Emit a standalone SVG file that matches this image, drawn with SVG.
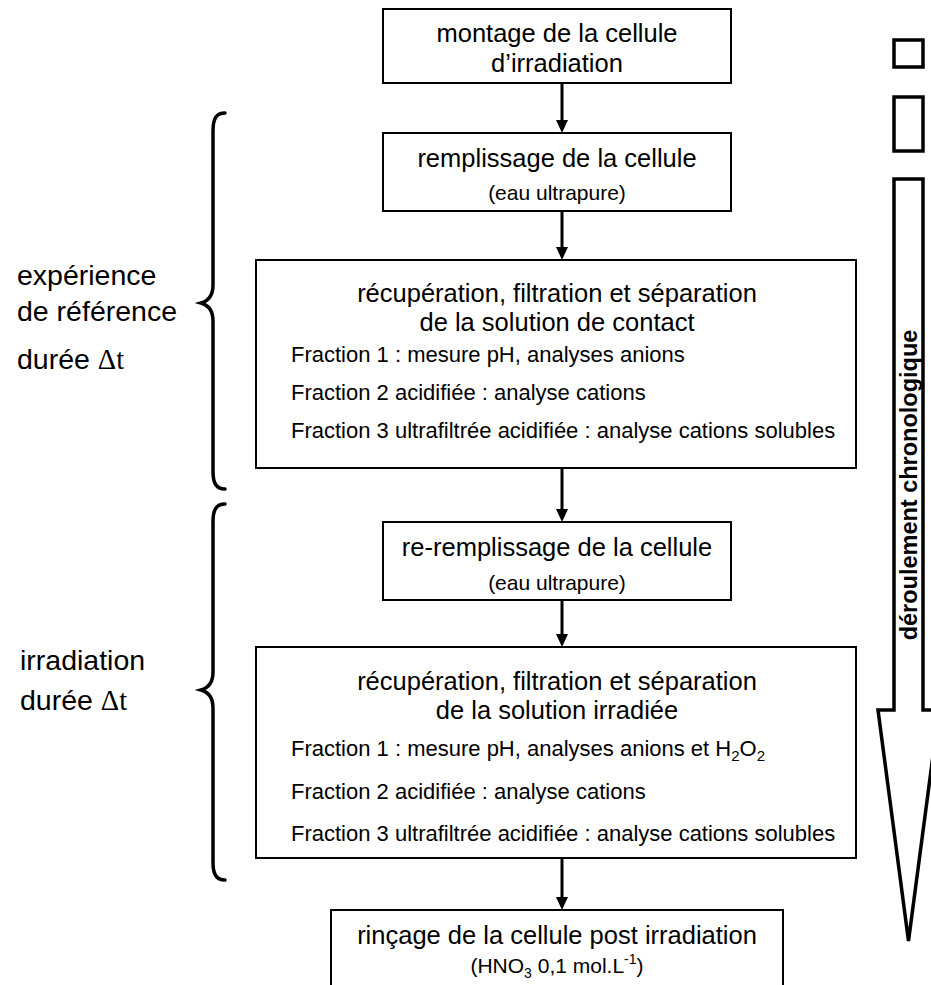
<svg xmlns="http://www.w3.org/2000/svg" width="931" height="985" viewBox="0 0 931 985">
<style>
.box{fill:#fff;stroke:#000;stroke-width:2}
.t{font-family:"Liberation Sans",Arial,sans-serif;fill:#000}
.title{font-size:25.5px;text-anchor:middle}
.sub{font-size:21px;text-anchor:middle}
.frac{font-size:22px}
.lab{font-size:28.5px}
.sym{font-family:"Liberation Serif","Times New Roman",serif}
.conn{stroke:#000;stroke-width:3;fill:none}
.head{fill:#000}
.brace{stroke:#000;stroke-width:3.5;fill:none;stroke-linecap:round}
.side{stroke:#000;stroke-width:3.5;fill:#fff}
</style>
<rect width="931" height="985" fill="#fff"/>

<g id="connectors">
<line class="conn" x1="562" y1="84" x2="562" y2="120"/>
<polygon class="head" points="556,120 568,120 562,133"/>
<line class="conn" x1="562" y1="212" x2="562" y2="247"/>
<polygon class="head" points="556,247 568,247 562,260"/>
<line class="conn" x1="562" y1="469" x2="562" y2="509"/>
<polygon class="head" points="556,509 568,509 562,522"/>
<line class="conn" x1="562" y1="601" x2="562" y2="634"/>
<polygon class="head" points="556,634 568,634 562,647"/>
<line class="conn" x1="562" y1="859" x2="562" y2="897"/>
<polygon class="head" points="556,897 568,897 562,910"/>
</g>

<g id="n1">
<rect class="box" x="383" y="9" width="348" height="74"/>
<text class="t title" x="557" y="42">montage de la cellule</text>
<text class="t title" x="557" y="72">d’irradiation</text>
</g>

<g id="n2">
<rect class="box" x="383" y="133" width="348" height="78"/>
<text class="t title" x="557" y="167">remplissage de la cellule</text>
<text class="t sub" x="557" y="200">(eau ultrapure)</text>
</g>

<g id="n3">
<rect class="box" x="256" y="260" width="600" height="208"/>
<text class="t title" x="557" y="302">récupération, filtration et séparation</text>
<text class="t title" x="557" y="331">de la solution de contact</text>
<text class="t frac" x="291" y="362">Fraction 1 : mesure pH, analyses anions</text>
<text class="t frac" x="291" y="400">Fraction 2 acidifiée : analyse cations</text>
<text class="t frac" x="291" y="438">Fraction 3 ultrafiltrée acidifiée : analyse cations solubles</text>
</g>

<g id="n4">
<rect class="box" x="383" y="522" width="348" height="78"/>
<text class="t title" x="557" y="556">re-remplissage de la cellule</text>
<text class="t sub" x="557" y="590">(eau ultrapure)</text>
</g>

<g id="n5">
<rect class="box" x="256" y="647" width="600" height="211"/>
<text class="t title" x="557" y="690">récupération, filtration et séparation</text>
<text class="t title" x="557" y="719">de la solution irradiée</text>
<text class="t frac" x="291" y="756">Fraction 1 : mesure pH, analyses anions et H<tspan font-size="15" dy="5">2</tspan><tspan dy="-5">O</tspan><tspan font-size="15" dy="5">2</tspan></text>
<text class="t frac" x="291" y="799">Fraction 2 acidifiée : analyse cations</text>
<text class="t frac" x="291" y="841">Fraction 3 ultrafiltrée acidifiée : analyse cations solubles</text>
</g>

<g id="n6">
<rect class="box" x="331" y="910" width="452" height="90"/>
<text class="t title" x="557" y="944">rinçage de la cellule post irradiation</text>
<text class="t sub" x="557" y="973">(HNO<tspan font-size="14" dy="5">3</tspan><tspan dy="-5"> 0,1 mol.L</tspan><tspan font-size="14" dy="-9">-1</tspan><tspan dy="9">)</tspan></text>
</g>

<g id="brace1">
<path class="brace" d="M225,113 C216,113 213,119 213,131 L213,285 C213,296 208,301 201,303 C208,305 213,310 213,321 L213,471 C213,483 216,489 225,489"/>
</g>
<g id="label1">
<text class="t lab" x="17" y="285">expérience</text>
<text class="t lab" x="17" y="321">de référence</text>
<text class="t lab" x="17" y="369">durée <tspan class="sym">Δt</tspan></text>
</g>

<g id="brace2">
<path class="brace" d="M225,504 C216,504 213,510 213,522 L213,672 C213,683 208,688 201,690 C208,692 213,697 213,708 L213,862 C213,874 216,880 225,880"/>
</g>
<g id="label2">
<text class="t lab" x="20" y="670">irradiation</text>
<text class="t lab" x="20" y="710">durée <tspan class="sym">Δt</tspan></text>
</g>

<g id="legend">
<rect class="side" x="894" y="40" width="29" height="27"/>
<rect class="side" x="894" y="97" width="29" height="54"/>
<path class="side" d="M894,179 L923,179 L923,710 L939,710 L908.5,941 L878,710 L894,710 Z"/>
<text class="t" transform="translate(917,485) rotate(-90)" text-anchor="middle" font-size="23.5" font-weight="bold">déroulement chronologique</text>
</g>
</svg>
